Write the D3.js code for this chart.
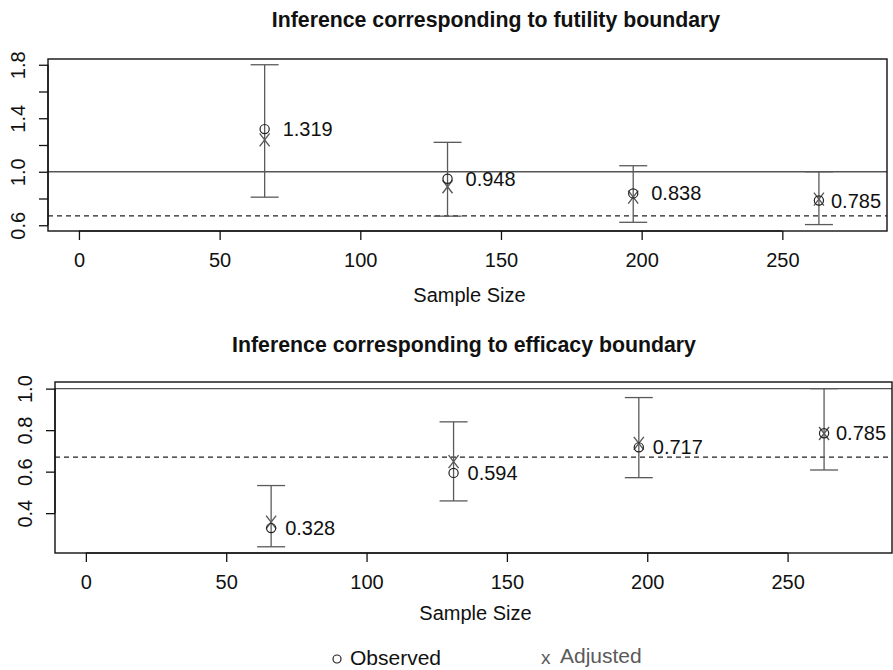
<!DOCTYPE html>
<html>
<head>
<meta charset="utf-8">
<script src="https://cdn.jsdelivr.net/npm/d3@7"></script>
<style>
  body { margin: 0; background: #fff; }
  text { font-family: "Liberation Sans", Arial, sans-serif; }
</style>
</head>
<body>
<script>
// values
const sampleSize = [66, 131, 197, 263]

const futObserved = [1.319, 0.948, 0.838, 0.785]
const futAdjusted = [1.238, 0.888, 0.810, 0.795]
const futLower = [0.810, 0.668, 0.622, 0.605]
const futUpper = [1.800, 1.220, 1.045, 1.000]

const effObserved = [0.328, 0.594, 0.717, 0.785]
const effAdjusted = [0.357, 0.648, 0.736, 0.784]
const effLower = [0.238, 0.459, 0.571, 0.608]
const effUpper = [0.533, 0.840, 0.957, 1.000]

const xTicks = [0, 50, 100, 150, 200, 250]
const futYTicks = [0.6, 0.8, 1.0, 1.2, 1.4, 1.6, 1.8]
const futYLabels = [0.6, 1.0, 1.4, 1.8]
const effYTicks = [0.4, 0.6, 0.8, 1.0]
const effYLabels = [0.4, 0.6, 0.8, 1.0]

const nullLine = 1.0
const refLine = 0.67

const titles = ["Inference corresponding to futility boundary",
                "Inference corresponding to efficacy boundary"]
const xLabel = "Sample Size"
const legendLabels = ["Observed", "Adjusted"]

const width = 893, height = 670
const barColor = "#5a5a5a"

const svg = d3.select("body").append("svg")
    .attr("width", width)
    .attr("height", height)

function rows(obs, adj, lo, hi) {
    return sampleSize.map((n, i) => ({n: n, obs: obs[i], adj: adj[i], lo: lo[i], hi: hi[i]}))
}

const panels = [
    {box: {left: 48, right: 887, top: 59, bottom: 231}, yDomain: [0.557, 1.843],
     ticks: futYTicks, labels: futYLabels, data: rows(futObserved, futAdjusted, futLower, futUpper),
     title: titles[0], titleX: 496, titleY: 27, xLabelY: 302, labelDx: 18},
    {box: {left: 55, right: 892, top: 382, bottom: 553}, yDomain: [0.208, 1.032],
     ticks: effYTicks, labels: effYLabels, data: rows(effObserved, effAdjusted, effLower, effUpper),
     title: titles[1], titleX: 464, titleY: 352, xLabelY: 620, labelDx: 14}
]

panels.forEach(p => {
    const b = p.box
    const x = d3.scaleLinear().domain([-11, 287.2]).range([b.left, b.right])
    const y = d3.scaleLinear().domain(p.yDomain).range([b.bottom, b.top])
    const g = svg.append("g")

    // title and axis label
    g.append("text")
        .text(p.title)
        .attr("x", p.titleX).attr("y", p.titleY)
        .attr("text-anchor", "middle")
        .style("font-weight", "bold")
        .style("font-size", "21.3px")
        .attr("fill", "#111")
    g.append("text")
        .text(xLabel)
        .attr("x", (b.left + b.right) / 2 + 2).attr("y", p.xLabelY)
        .attr("text-anchor", "middle")
        .style("font-size", "20px")
        .attr("fill", "#111")

    // reference lines
    g.append("line")
        .attr("x1", b.left).attr("x2", b.right)
        .attr("y1", y(nullLine)).attr("y2", y(nullLine))
        .attr("stroke", "#555").attr("stroke-width", 1.4)
    g.append("line")
        .attr("x1", b.left).attr("x2", b.right)
        .attr("y1", y(refLine)).attr("y2", y(refLine))
        .attr("stroke", "#222").attr("stroke-width", 1.1)
        .attr("stroke-dasharray", "5,4")

    // box
    g.append("rect")
        .attr("x", b.left).attr("y", b.top)
        .attr("width", b.right - b.left).attr("height", b.bottom - b.top)
        .attr("fill", "none").attr("stroke", "#111").attr("stroke-width", 1.4)

    // x axis
    const xa = g.append("g")
        .attr("transform", `translate(0, ${b.bottom})`)
        .call(d3.axisBottom(x).tickValues(xTicks).tickSize(9).tickSizeOuter(0).tickFormat(d3.format("d")))
    xa.select(".domain")
        .attr("d", `M${x(xTicks[0])},0H${x(xTicks[xTicks.length - 1])}`)
    xa.selectAll("line").attr("stroke", "#111").attr("stroke-width", 1.3)
    xa.selectAll("text")
        .attr("dy", null).attr("y", 36)
        .style("font-size", "20px").style("font-family", "Liberation Sans, Arial, sans-serif")
        .attr("fill", "#111")

    // y axis
    const ya = g.append("g")
        .attr("transform", `translate(${b.left}, 0)`)
        .call(d3.axisLeft(y).tickValues(p.ticks).tickSize(9).tickSizeOuter(0)
            .tickFormat(d => p.labels.includes(d) ? d3.format(".1f")(d) : ""))
    ya.select(".domain")
        .attr("d", `M0,${y(p.ticks[0])}V${y(p.ticks[p.ticks.length - 1])}`)
        .attr("stroke", "#111").attr("stroke-width", 1.3)
    ya.selectAll("line").attr("stroke", "#111").attr("stroke-width", 1.3)
    ya.selectAll("text")
        .attr("x", null).attr("dy", "0.35em")
        .attr("transform", "translate(-30,0) rotate(-90)")
        .attr("text-anchor", "middle")
        .style("font-size", "20px").style("font-family", "Liberation Sans, Arial, sans-serif")
        .attr("fill", "#111")

    // error bars
    const bars = g.append("g").attr("stroke", barColor).attr("stroke-width", 1.3)
    bars.selectAll(".v").data(p.data).enter().append("line")
        .attr("x1", d => x(d.n)).attr("x2", d => x(d.n))
        .attr("y1", d => y(d.lo)).attr("y2", d => y(d.hi))
    bars.selectAll(".lo").data(p.data).enter().append("line")
        .attr("x1", d => x(d.n) - 14).attr("x2", d => x(d.n) + 14)
        .attr("y1", d => y(d.lo)).attr("y2", d => y(d.lo))
    bars.selectAll(".hi").data(p.data).enter().append("line")
        .attr("x1", d => x(d.n) - 14).attr("x2", d => x(d.n) + 14)
        .attr("y1", d => y(d.hi)).attr("y2", d => y(d.hi))

    // adjusted (X)
    g.append("g").selectAll("path").data(p.data).enter().append("path")
        .attr("d", d => {
            const cx = x(d.n), cy = y(d.adj)
            return `M${cx - 5},${cy - 6.5}L${cx + 5},${cy + 6.5}M${cx + 5},${cy - 6.5}L${cx - 5},${cy + 6.5}`
        })
        .attr("stroke", barColor).attr("stroke-width", 1.4).attr("fill", "none")

    // observed (o)
    g.append("g").selectAll("circle").data(p.data).enter().append("circle")
        .attr("cx", d => x(d.n)).attr("cy", d => y(d.obs)).attr("r", 4.6)
        .attr("fill", "none").attr("stroke", "#222").attr("stroke-width", 1.2)

    // value labels, kept inside the box
    g.append("g").selectAll("text").data(p.data).enter().append("text")
        .text(d => d3.format(".3f")(d.obs))
        .attr("x", d => Math.min(x(d.n) + p.labelDx, b.right - 56))
        .attr("y", d => y(d.obs))
        .attr("dy", "0.35em")
        .style("font-size", "20px")
        .attr("fill", "#111")
})

// legend
const legend = svg.append("g")
legend.append("circle")
    .attr("cx", 337).attr("cy", 659).attr("r", 4)
    .attr("fill", "none").attr("stroke", "#222").attr("stroke-width", 1.2)
legend.append("text").text(legendLabels[0])
    .attr("x", 350).attr("y", 665)
    .style("font-size", "21px").attr("fill", "#111")
legend.append("text").text("x")
    .attr("x", 541).attr("y", 664)
    .style("font-size", "19px").attr("fill", barColor)
legend.append("text").text(legendLabels[1])
    .attr("x", 560).attr("y", 663)
    .style("font-size", "21px").attr("fill", barColor)
</script>
</body>
</html>
